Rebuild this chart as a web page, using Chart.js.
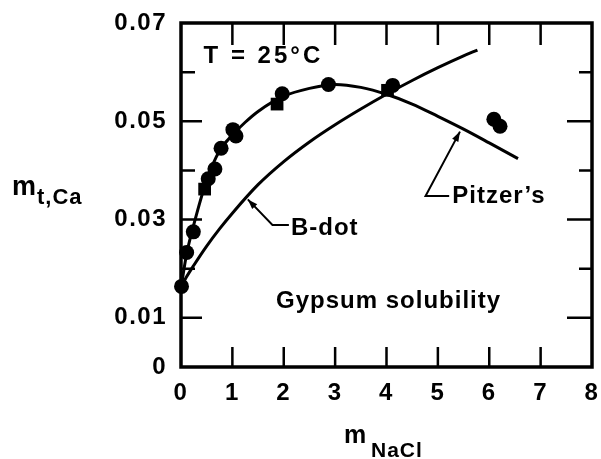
<!DOCTYPE html>
<html>
<head>
<meta charset="utf-8">
<script src="https://cdn.jsdelivr.net/npm/chart.js@4.4.1/dist/chart.umd.min.js"></script>
<style>
  html, body { margin: 0; padding: 0; background: #fff; }
</style>
</head>
<body>
<canvas id="gypsumChart" width="601" height="459"></canvas>
<script>
// measured total Ca molality vs NaCl molality
const circleNaCl = [0.01, 0.11, 0.24, 0.53, 0.66, 0.78, 1.01, 1.07, 1.97, 2.87, 4.12, 6.09, 6.21];
const circleCa   = [0.0164, 0.0233, 0.0275, 0.0383, 0.0403, 0.0445, 0.0483, 0.0470, 0.0556, 0.0575, 0.0573, 0.0504, 0.0490];
const squareNaCl = [0.46, 1.87, 4.02];
const squareCa   = [0.0362, 0.0535, 0.0563];

// model curves
const pitzerNaCl = [0, 0.1, 0.25, 0.5, 0.75, 1, 1.25, 1.5, 2, 2.5, 3, 3.5, 4, 4.5, 5, 5.5, 6, 6.56];
const pitzerCa   = [0.0160, 0.0225, 0.0290, 0.0380, 0.0440, 0.0472, 0.0498, 0.0520, 0.0551, 0.0567, 0.0575, 0.0569, 0.0555, 0.0535, 0.0510, 0.0484, 0.0456, 0.0424];
const bdotNaCl   = [0, 0.1, 0.25, 0.5, 0.75, 1, 1.5, 2, 2.5, 3, 3.5, 4, 4.5, 5, 5.5, 5.77];
const bdotCa     = [0.0162, 0.0182, 0.0207, 0.0246, 0.0281, 0.0313, 0.0371, 0.0418, 0.0458, 0.0493, 0.0525, 0.0555, 0.0583, 0.0609, 0.0633, 0.0645];

// axis ticks
const xTicks = [0, 1, 2, 3, 4, 5, 6, 7, 8];
const yTicks = [0, 0.01, 0.02, 0.03, 0.04, 0.05, 0.06, 0.07];
const yLabeled = [0, 0.01, 0.03, 0.05, 0.07];

const FONT = '"Liberation Sans", Arial, Helvetica, sans-serif';

function toPoints(xs, ys) {
  return xs.map((x, i) => ({ x: x, y: ys[i] }));
}

// text labels placed in data units
const notes = [
  { text: 'T = 25\u00B0C', x: 0.44, y: 0.0633, spacing: '3px' },
  { text: 'Gypsum solubility', x: 1.85, y: 0.0133, spacing: '1px' },
  { text: 'B-dot', x: 2.14, y: 0.0283, spacing: '1px' },
  { text: 'Pitzer\u2019s', x: 5.28, y: 0.0348, spacing: '1px' }
];
// leader arrows: tip on curve, elbow, end at label
const leaders = [
  { tip: [1.30, 0.0341], elbow: [1.78, 0.0289], end: [2.10, 0.0289] },
  { tip: [5.43, 0.0479], elbow: [4.76, 0.0348], end: [5.22, 0.0348] }
];

const framePlugin = {
  id: 'frame',
  beforeDraw(chart) {
    chart.ctx.letterSpacing = '1.5px';
  },
  afterDraw(chart) {
    const ctx = chart.ctx;
    const a = chart.chartArea;
    const xs = chart.scales.x, ys = chart.scales.y;
    ctx.save();
    ctx.strokeStyle = '#000';
    ctx.fillStyle = '#000';

    // border box
    ctx.lineWidth = 3.5;
    ctx.strokeRect(a.left, a.top, a.right - a.left, a.bottom - a.top);

    // inward ticks on all four sides
    ctx.lineWidth = 2.5;
    ctx.beginPath();
    xTicks.slice(1, -1).forEach(v => {
      const px = xs.getPixelForValue(v);
      ctx.moveTo(px, a.bottom); ctx.lineTo(px, a.bottom - 20);
      ctx.moveTo(px, a.top); ctx.lineTo(px, a.top + 22);
    });
    yTicks.slice(1, -1).forEach(v => {
      const py = ys.getPixelForValue(v);
      const major = yLabeled.some(t => Math.abs(t - v) < 1e-9);
      ctx.moveTo(a.left, py); ctx.lineTo(a.left + (major ? 21 : 14), py);
      ctx.moveTo(a.right, py); ctx.lineTo(a.right - (major ? 25 : 13), py);
    });
    ctx.stroke();

    // leader lines with arrowheads
    ctx.lineWidth = 2;
    leaders.forEach(l => {
      const tx = xs.getPixelForValue(l.tip[0]), ty = ys.getPixelForValue(l.tip[1]);
      const ex = xs.getPixelForValue(l.elbow[0]), ey = ys.getPixelForValue(l.elbow[1]);
      const nx = xs.getPixelForValue(l.end[0]), ny = ys.getPixelForValue(l.end[1]);
      ctx.beginPath();
      ctx.moveTo(nx, ny); ctx.lineTo(ex, ey); ctx.lineTo(tx, ty);
      ctx.stroke();
      const ang = Math.atan2(ty - ey, tx - ex);
      const len = 10, half = 3.5;
      ctx.beginPath();
      ctx.moveTo(tx, ty);
      ctx.lineTo(tx - len * Math.cos(ang) + half * Math.sin(ang), ty - len * Math.sin(ang) - half * Math.cos(ang));
      ctx.lineTo(tx - len * Math.cos(ang) - half * Math.sin(ang), ty - len * Math.sin(ang) + half * Math.cos(ang));
      ctx.closePath();
      ctx.fill();
    });

    // in-plot labels
    ctx.font = 'bold 24px ' + FONT;
    ctx.textBaseline = 'middle';
    ctx.textAlign = 'left';
    notes.forEach(n => {
      ctx.letterSpacing = n.spacing;
      ctx.fillText(n.text, xs.getPixelForValue(n.x), ys.getPixelForValue(n.y));
    });

    // axis titles with subscripts
    ctx.letterSpacing = '1px';
    ctx.textBaseline = 'alphabetic';
    ctx.font = 'bold 27px ' + FONT;
    ctx.fillText('m', 12, 195);
    ctx.font = 'bold 22px ' + FONT;
    ctx.fillText('t,Ca', 37, 204);

    ctx.font = 'bold 25px ' + FONT;
    ctx.fillText('m', 344, 443);
    ctx.font = 'bold 21px ' + FONT;
    ctx.fillText('NaCl', 371, 457);
    ctx.restore();
  }
};

const tickFont = { family: FONT, size: 24, weight: 'bold' };

new Chart(document.getElementById('gypsumChart'), {
  type: 'scatter',
  data: {
    datasets: [
      {
        type: 'line',
        label: "Pitzer's",
        data: toPoints(pitzerNaCl, pitzerCa),
        borderColor: '#000',
        borderWidth: 3,
        pointRadius: 0,
        cubicInterpolationMode: 'monotone',
        fill: false
      },
      {
        type: 'line',
        label: 'B-dot',
        data: toPoints(bdotNaCl, bdotCa),
        borderColor: '#000',
        borderWidth: 3,
        pointRadius: 0,
        cubicInterpolationMode: 'monotone',
        fill: false
      },
      {
        label: 'data (circles)',
        data: toPoints(circleNaCl, circleCa),
        pointStyle: 'circle',
        pointRadius: 7.5,
        backgroundColor: '#000',
        borderColor: '#000',
        borderWidth: 0,
        clip: false
      },
      {
        label: 'data (squares)',
        data: toPoints(squareNaCl, squareCa),
        pointStyle: 'rect',
        pointRadius: 9,
        backgroundColor: '#000',
        borderColor: '#000',
        borderWidth: 0,
        clip: false
      }
    ]
  },
  options: {
    responsive: false,
    animation: false,
    layout: { padding: { top: 23, right: 5, left: 0, bottom: 0 } },
    plugins: {
      legend: { display: false },
      tooltip: { enabled: false }
    },
    scales: {
      x: {
        type: 'linear',
        min: 0,
        max: 8,
        afterBuildTicks: s => { s.ticks = xTicks.map(v => ({ value: v })); },
        afterFit: s => { s.height = 92; s.paddingLeft = 0; s.paddingRight = 0; },
        grid: { display: false, drawTicks: false },
        border: { display: false },
        ticks: { color: '#000', font: tickFont, padding: 12, maxRotation: 0, autoSkip: false }
      },
      y: {
        type: 'linear',
        min: 0,
        max: 0.07,
        afterBuildTicks: s => { s.ticks = yLabeled.map(v => ({ value: v })); },
        afterFit: s => { s.width = 181; s.paddingTop = 0; s.paddingBottom = 0; },
        grid: { display: false, drawTicks: false },
        border: { display: false },
        ticks: {
          color: '#000',
          font: tickFont,
          padding: 14,
          autoSkip: false,
          callback: v => (v === 0 ? '0' : v.toFixed(2))
        }
      }
    }
  },
  plugins: [framePlugin]
});
</script>
</body>
</html>
